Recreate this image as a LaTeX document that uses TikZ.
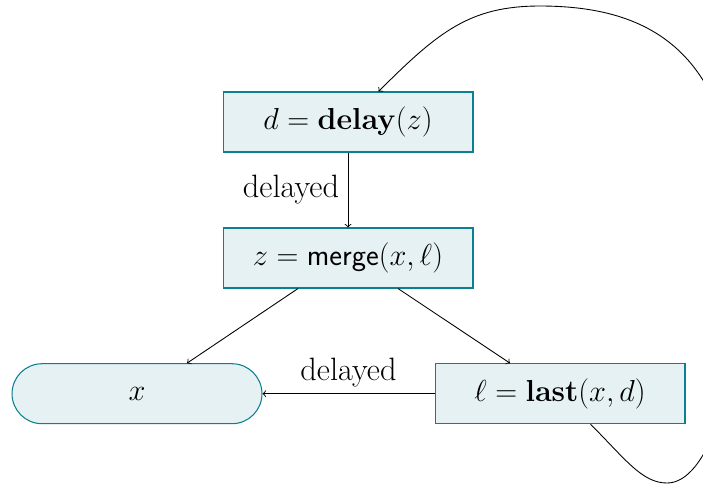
\documentclass[tikz,border=0pt]{standalone}
\usetikzlibrary{arrows}
\definecolor{boxline}{RGB}{10,128,145}
\definecolor{boxfill}{RGB}{230,241,243}
\newcommand{\bigfont}{\fontsize{18.4}{22}\selectfont}
\begin{document}
\begin{tikzpicture}[x=0.02cm,y=0.02cm,
  opbox/.style={draw=boxline,line width=0.6pt,fill=boxfill,minimum width=5cm,minimum height=1.2cm,inner sep=0pt,font=\bigfont},
  varbox/.style={opbox,rounded corners=0.6cm},
  edge/.style={->,line width=0.5pt},
  lbl/.style={font=\bigfont}]
\useasboundingbox (0,0) rectangle (703,-485);
\node[opbox]  (d) at (348,-122)   {$d = \mathbf{delay}(z)$};
\node[opbox]  (z) at (348,-258)   {$z = \mathsf{merge}(x,\ell)$};
\node[varbox] (x) at (137,-393.7) {$x$};
\node[opbox]  (l) at (560,-393.7) {$\ell = \mathbf{last}(x,d)$};
\coordinate (b1) at (667,-483);
\coordinate (r1) at (740,-250);
\coordinate (t1) at (540,-6);
\draw[edge] (d.south) -- node[lbl,left=1.5pt] {delayed} (z.north);
\draw[edge] ([xshift=-1cm]z.south) -- ([xshift=1cm]x.north);
\draw[edge] ([xshift=1cm]z.south) -- ([xshift=-1cm]l.north);
\draw[edge] (l.west) -- node[lbl,above] {delayed} (x.east);
\draw[edge] (l.-45) .. controls +(35,-35) and +(-25,0) .. (b1)
  .. controls +(40,0) and +(0,-140) .. (r1)
  .. controls +(0,190) and +(120,0) .. (t1)
  .. controls +(-70,0) and +(60,60) .. (d.45);
\end{tikzpicture}
\end{document}
